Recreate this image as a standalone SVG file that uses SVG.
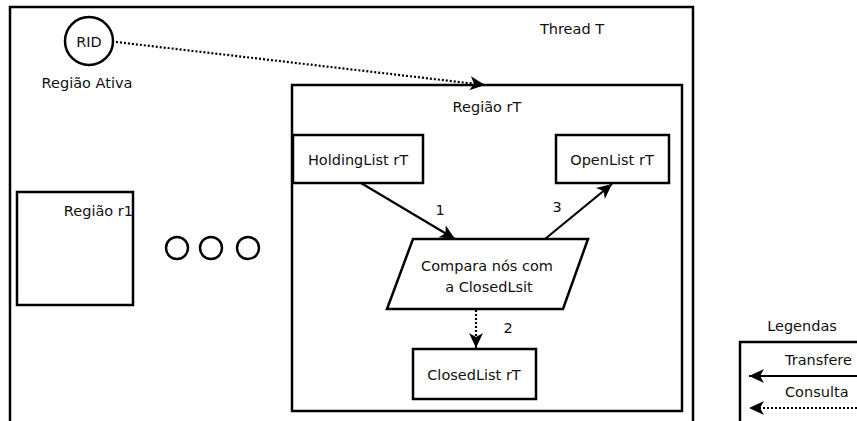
<svg xmlns="http://www.w3.org/2000/svg" width="857" height="421" viewBox="0 0 857 421">
  <style>
    .box { fill: #ffffff; stroke: #000000; stroke-width: 2.5; }
    .frame { fill: none; stroke: #000000; stroke-width: 2.5; }
    .lbl { font-family: "DejaVu Sans", Verdana, sans-serif; font-size: 14.5px; fill: #111111; }
    .mid { text-anchor: middle; }
    .solid { fill: none; stroke: #000000; stroke-width: 2.2; }
    .dotted { fill: none; stroke: #000000; stroke-width: 2.2; stroke-dasharray: 2 2; }
  </style>
  <defs>
    <marker id="arrow" markerUnits="userSpaceOnUse" markerWidth="18" markerHeight="14" refX="15" refY="7" orient="auto" overflow="visible">
      <path d="M0,0 L15,7 L0,14 L4,7 Z" fill="#000000"/>
    </marker>
  </defs>

  <rect width="857" height="421" fill="#ffffff"/>

  <!-- Thread T frame -->
  <g id="thread-t">
    <rect class="frame" x="10" y="7" width="683" height="430"/>
    <text class="lbl mid" x="572" y="34">Thread T</text>
  </g>

  <!-- Active region marker -->
  <g id="rid">
    <circle class="box" cx="89" cy="41" r="24"/>
    <text class="lbl mid" x="89" y="47">RID</text>
    <text class="lbl mid" x="87" y="88">Região Ativa</text>
  </g>

  <!-- Region r1 -->
  <g id="regiao-r1">
    <rect class="box" x="17" y="192" width="116" height="113"/>
    <text class="lbl" x="133" y="216" text-anchor="end">Região r1</text>
  </g>

  <!-- Ellipsis of further regions -->
  <g id="more-regions">
    <circle class="frame" cx="177" cy="248" r="11"/>
    <circle class="frame" cx="211" cy="248" r="11"/>
    <circle class="frame" cx="248" cy="248" r="11"/>
  </g>

  <!-- Region rT container -->
  <g id="regiao-rt">
    <rect class="box" x="292" y="85" width="390" height="326"/>
    <text class="lbl mid" x="487" y="112">Região rT</text>
  </g>

  <g id="holdinglist">
    <rect class="box" x="293" y="135" width="130" height="48"/>
    <text class="lbl mid" x="358" y="165">HoldingList rT</text>
  </g>

  <g id="openlist">
    <rect class="box" x="556" y="135" width="113" height="48"/>
    <text class="lbl mid" x="612" y="165">OpenList rT</text>
  </g>

  <g id="compara">
    <polygon class="box" points="413,239 588,239 563,309 387,309"/>
    <text class="lbl mid" x="487" y="271">Compara nós com</text>
    <text class="lbl mid" x="489" y="292">a ClosedLsit</text>
  </g>

  <g id="closedlist">
    <rect class="box" x="413" y="349" width="123" height="50"/>
    <text class="lbl mid" x="474" y="380">ClosedList rT</text>
  </g>

  <!-- Connectors -->
  <g id="connectors">
    <line class="dotted" x1="116" y1="42" x2="485" y2="85" marker-end="url(#arrow)"/>
    <line class="solid" x1="361" y1="183" x2="455" y2="239" marker-end="url(#arrow)"/>
    <line class="solid" x1="545" y1="239" x2="612" y2="184" marker-end="url(#arrow)"/>
    <line class="dotted" x1="476" y1="310" x2="476" y2="348" marker-end="url(#arrow)"/>
    <text class="lbl mid" x="440" y="215">1</text>
    <text class="lbl mid" x="508" y="333">2</text>
    <text class="lbl mid" x="557" y="212">3</text>
  </g>

  <!-- Legend -->
  <g id="legenda">
    <text class="lbl mid" x="802" y="331">Legendas</text>
    <rect class="box" x="740" y="342" width="130" height="100"/>
    <text class="lbl" x="785" y="365">Transfere</text>
    <line class="solid" x1="857" y1="376" x2="749" y2="376" marker-end="url(#arrow)"/>
    <text class="lbl" x="785" y="397">Consulta</text>
    <line class="dotted" x1="857" y1="408" x2="749" y2="408" marker-end="url(#arrow)"/>
  </g>
</svg>
